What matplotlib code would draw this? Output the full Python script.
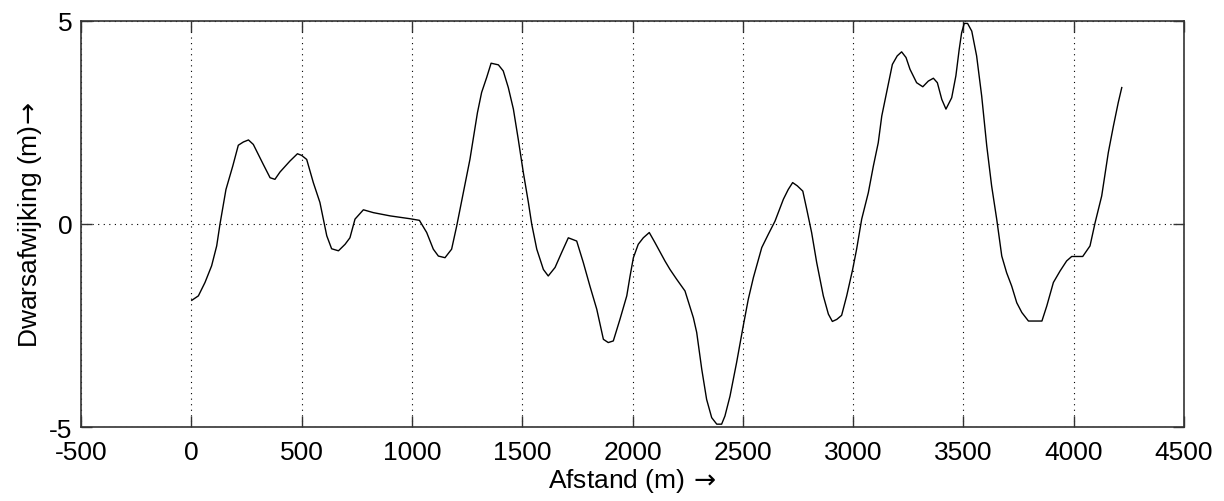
import matplotlib
matplotlib.use("Agg")
import matplotlib.pyplot as plt

# Afstand langs het traject (m) en bijbehorende dwarsafwijking (m)
afstand = [
    2, 32, 62, 92, 115, 130, 157, 188, 213, 236, 259, 281, 326, 357, 379, 402,
    447, 481, 500, 523, 553, 583, 614, 636, 667, 697, 719, 742, 780, 825, 901,
    991, 1034, 1067, 1097, 1120, 1150, 1180, 1203, 1233, 1263, 1297, 1316, 1339,
    1359, 1392, 1414, 1437, 1460, 1482, 1505, 1528, 1543, 1566, 1596, 1618, 1649,
    1679, 1709, 1747, 1777, 1807, 1838, 1868, 1890, 1913, 1943, 1974, 1989, 2004,
    2026, 2049, 2076, 2102, 2147, 2170, 2200, 2238, 2276, 2291, 2314, 2336, 2359,
    2382, 2404, 2419, 2442, 2472, 2502, 2525, 2548, 2586, 2616, 2646, 2684, 2706,
    2726, 2747, 2772, 2790, 2812, 2835, 2865, 2888, 2906, 2926, 2948, 2971, 2998,
    3016, 3039, 3069, 3092, 3114, 3130, 3152, 3178, 3200, 3220, 3240, 3258, 3288,
    3316, 3341, 3364, 3382, 3402, 3421, 3447, 3466, 3481, 3492, 3504, 3519, 3538,
    3560, 3583, 3606, 3628, 3651, 3674, 3696, 3719, 3742, 3765, 3795, 3856, 3878,
    3908, 3938, 3968, 3991, 4041, 4074, 4097, 4127, 4157, 4180, 4202, 4218,
]
dwarsafwijking = [
    -1.88, -1.77, -1.44, -1.03, -0.54, 0.00, 0.85, 1.43, 1.94, 2.02, 2.07, 1.96,
    1.47, 1.14, 1.10, 1.28, 1.55, 1.73, 1.69, 1.59, 1.02, 0.53, -0.29, -0.61,
    -0.66, -0.50, -0.34, 0.12, 0.35, 0.28, 0.20, 0.13, 0.09, -0.21, -0.62, -0.79,
    -0.83, -0.62, -0.05, 0.77, 1.59, 2.74, 3.24, 3.61, 3.96, 3.92, 3.77, 3.36,
    2.83, 2.09, 1.27, 0.53, 0.00, -0.62, -1.12, -1.28, -1.07, -0.70, -0.34,
    -0.42, -0.95, -1.53, -2.10, -2.84, -2.92, -2.88, -2.35, -1.77, -1.28, -0.83,
    -0.50, -0.34, -0.21, -0.46, -0.91, -1.12, -1.36, -1.65, -2.31, -2.67, -3.58,
    -4.32, -4.77, -4.93, -4.93, -4.73, -4.24, -3.41, -2.51, -1.85, -1.32, -0.58,
    -0.25, 0.07, 0.61, 0.85, 1.02, 0.94, 0.81, 0.36, -0.21, -0.95, -1.77, -2.22,
    -2.40, -2.35, -2.25, -1.77, -1.12, -0.62, 0.12, 0.77, 1.43, 2.00, 2.66, 3.24,
    3.93, 4.14, 4.24, 4.10, 3.81, 3.48, 3.38, 3.52, 3.59, 3.48, 3.07, 2.83, 3.11,
    3.65, 4.30, 4.71, 4.94, 4.94, 4.75, 4.14, 3.15, 1.92, 0.94, 0.12, -0.79,
    -1.20, -1.53, -1.94, -2.18, -2.39, -2.39, -2.02, -1.44, -1.16, -0.91, -0.80,
    -0.80, -0.54, 0.03, 0.69, 1.76, 2.41, 2.99, 3.36,
]

x_ticks = [-500, 0, 500, 1000, 1500, 2000, 2500, 3000, 3500, 4000, 4500]
y_ticks = [-5, 0, 5]

plt.rcParams["font.family"] = ["Liberation Sans", "DejaVu Sans"]
plt.rcParams["mathtext.fontset"] = "dejavusans"

fig = plt.figure(figsize=(12.24, 5.02), dpi=100)
ax = fig.add_axes([0.0662, 0.1474, 0.9011, 0.8088])

ax.plot(afstand, dwarsafwijking, color="black", linewidth=1.0)

ax.set_xlim(-500, 4500)
ax.set_ylim(-5, 5)
ax.set_xticks(x_ticks)
ax.set_yticks(y_ticks)
ax.set_xticklabels([str(v) for v in x_ticks])
ax.set_yticklabels([str(v) for v in y_ticks])

ax.grid(True, linestyle=(0, (1, 4)), color="black", linewidth=0.8)
ax.tick_params(direction="in", length=8, width=1.0, labelsize=19,
               top=True, right=True, color="#333333")
ax.tick_params(axis="x", pad=9.5)
ax.tick_params(axis="y", pad=6)
for s in ax.spines.values():
    s.set_linewidth(1.2)
    s.set_color("#333333")

ax.set_xlabel(r"Afstand (m)$\,\rightarrow$", fontsize=19, labelpad=1)
ax.set_ylabel(r"Dwarsafwijking (m)$\!\rightarrow$", fontsize=19, labelpad=4)

fig.savefig("out.png", dpi=100, facecolor="white")
